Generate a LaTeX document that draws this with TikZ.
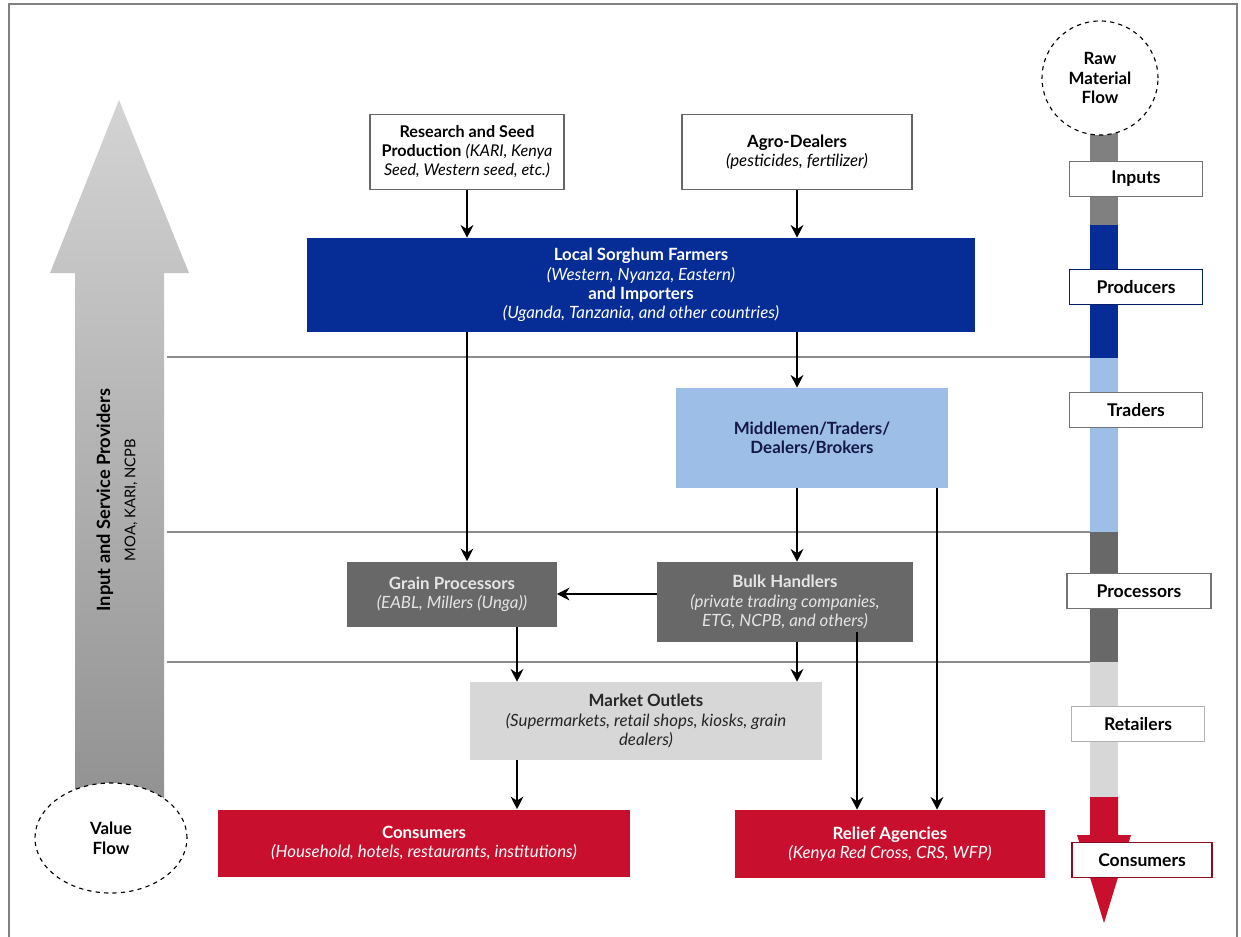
\documentclass[tikz,border=0pt]{standalone}
\usepackage{fontspec}
\setmainfont{Lato}
\usetikzlibrary{arrows.meta,shapes.geometric}

\definecolor{farmblue}{RGB}{6,44,150}
\definecolor{tradeblue}{RGB}{157,190,230}
\definecolor{procgray}{RGB}{104,104,104}
\definecolor{retailgray}{RGB}{215,215,215}
\definecolor{consred}{RGB}{200,16,46}
\definecolor{navytext}{RGB}{20,24,70}

\begin{document}
\begin{tikzpicture}[x=0.025cm, y=-0.025cm,
  box/.style={rectangle, inner sep=0pt, align=center, font=\fontsize{12}{13.8}\selectfont},
  link/.style={line width=2pt, -{Stealth[length=9pt,width=9pt]}},
  sepline/.style={draw=black!45, line width=0.8pt},
  stagebox/.style={rectangle, draw=black!55, line width=1.3pt, fill=white, minimum width=3.325cm,
    minimum height=0.875cm, font=\fontsize{12.5}{14}\selectfont\bfseries},
  flowring/.style={ellipse, draw, dashed, line width=0.8pt, fill=white, align=center, inner sep=0pt,
    font=\fontsize{12}{14}\selectfont\bfseries}]

  \useasboundingbox (0,0) rectangle (1241,936);
  \draw[black!50, line width=1.2pt] (9,945) -- (9,4) -- (1237,4) -- (1237,945);

  % value arrow on the left
  \shade[top color=black!17, bottom color=black!45] (75,860) -- (75,273) -- (50,273) -- (119,100)
    -- (189,273) -- (164,273) -- (164,860) -- cycle;
  \node[rotate=90, align=center, font=\fontsize{13}{18}\selectfont] (providers) at (117,500)
    {\textbf{Input and Service Providers}\\{\fontsize{10.5}{12}\selectfont MOA, KARI, NCPB}};
  \node[flowring, minimum width=3.8cm, minimum height=2.75cm] (valueflow) at (111,838) {Value\\Flow};

  % stage separators
  \draw[sepline] (167,357) -- (1090,357);
  \draw[sepline] (167,532) -- (1090,532);
  \draw[sepline] (167,662) -- (1090,662);

  % raw material strip on the right
  \fill[black!50] (1090,133) rectangle (1118,225);
  \fill[farmblue] (1090,225) rectangle (1118,358);
  \fill[tradeblue] (1090,358) rectangle (1118,532);
  \fill[procgray] (1090,532) rectangle (1118,662);
  \fill[retailgray] (1090,662) rectangle (1118,797);
  \fill[consred] (1090,797) -- (1090,835) -- (1077,835) -- (1104,923) -- (1131,835) -- (1118,835)
    -- (1118,797) -- cycle;
  \node[flowring, minimum width=2.9cm, minimum height=2.85cm] (rawflow) at (1100,78) {Raw\\Material\\Flow};
  \node[stagebox] (s_inputs) at (1136,179) {Inputs};
  \node[stagebox, draw=farmblue!70!black] (s_producers) at (1136,287) {Producers};
  \node[stagebox] (s_traders) at (1136,410) {Traders};
  \node[stagebox, minimum width=3.6cm] (s_processors) at (1139,591) {Processors};
  \node[stagebox, draw=black!30] (s_retailers) at (1138,724) {Retailers};
  \node[stagebox, draw=consred!70!black, minimum width=3.5cm] (s_consumers) at (1142,860) {Consumers};

  % chain boxes
  \node[box, draw=black!60, line width=1pt, minimum width=4.85cm, minimum height=1.875cm,
    font=\fontsize{11.5}{13.5}\selectfont] (research) at (467,152) {\textbf{Research and Seed}\\
    \textbf{Production} \textit{(KARI, Kenya}\\ \textit{Seed, Western seed, etc.)}};
  \node[box, draw=black!60, line width=1pt, minimum width=5.75cm, minimum height=1.875cm] (agro)
    at (797,152) {\textbf{Agro-Dealers}\\ \textit{(pesticides, fertilizer)}};
  \node[box, fill=farmblue, text=white, minimum width=16.7cm, minimum height=2.35cm] (farmers)
    at (641,285) {\textbf{Local Sorghum Farmers}\\ \textit{(Western, Nyanza, Eastern)}\\
    \textbf{and Importers}\\ \textit{(Uganda, Tanzania, and other countries)}};
  \node[box, fill=tradeblue, text=navytext, minimum width=6.775cm, minimum height=2.5cm] (middlemen)
    at (812,438) {\textbf{Middlemen/Traders/}\\ \textbf{Dealers/Brokers}};
  \node[box, fill=procgray, text=black!10, minimum width=5.225cm, minimum height=1.625cm] (grain)
    at (452,594) {\textbf{Grain Processors}\\ \textit{(EABL, Millers (Unga))}};
  \node[box, fill=procgray, text=black!10, minimum width=6.4cm, minimum height=2cm] (bulk)
    at (785,602) {\textbf{Bulk Handlers}\\ \textit{(private trading companies,}\\
    \textit{ETG, NCPB, and others)}};
  \node[box, fill=retailgray, text=black!85, minimum width=8.8cm, minimum height=1.95cm] (market)
    at (646,721) {\textbf{Market Outlets}\\ \textit{(Supermarkets, retail shops, kiosks, grain}\\
    \textit{dealers)}};
  \node[box, fill=consred, text=white, minimum width=10.275cm, minimum height=1.675cm] (consumers)
    at (424,843) {\textbf{Consumers}\\ \textit{(Household, hotels, restaurants, institutions)}};
  \node[box, fill=consred, text=white, minimum width=7.75cm, minimum height=1.7cm] (relief)
    at (890,844) {\textbf{Relief Agencies}\\ \textit{(Kenya Red Cross, CRS, WFP)}};

  % lanes for the vertical links
  \coordinate (laneA) at (467,0);
  \coordinate (laneB) at (797,0);
  \coordinate (laneC) at (517,0);
  \coordinate (laneD) at (857,0);
  \coordinate (laneE) at (937,0);

  \draw[link] (research.south) -- (farmers.north -| laneA);
  \draw[link] (agro.south) -- (farmers.north -| laneB);
  \draw[link] (farmers.south -| laneA) -- (grain.north -| laneA);
  \draw[link] (farmers.south -| laneB) -- (middlemen.north -| laneB);
  \draw[link] (middlemen.south -| laneB) -- (bulk.north -| laneB);
  \draw[link] (middlemen.south -| laneE) -- (relief.north -| laneE);
  \draw[link] (bulk.west |- grain.east) -- (grain.east);
  \draw[link] ([yshift=0.25cm]bulk.south -| laneD) -- (relief.north -| laneD);
  \draw[link] (grain.south -| laneC) -- (market.north -| laneC);
  \draw[link] (bulk.south -| laneB) -- (market.north -| laneB);
  \draw[link] (market.south -| laneC) -- (consumers.north -| laneC);
\end{tikzpicture}
\end{document}
